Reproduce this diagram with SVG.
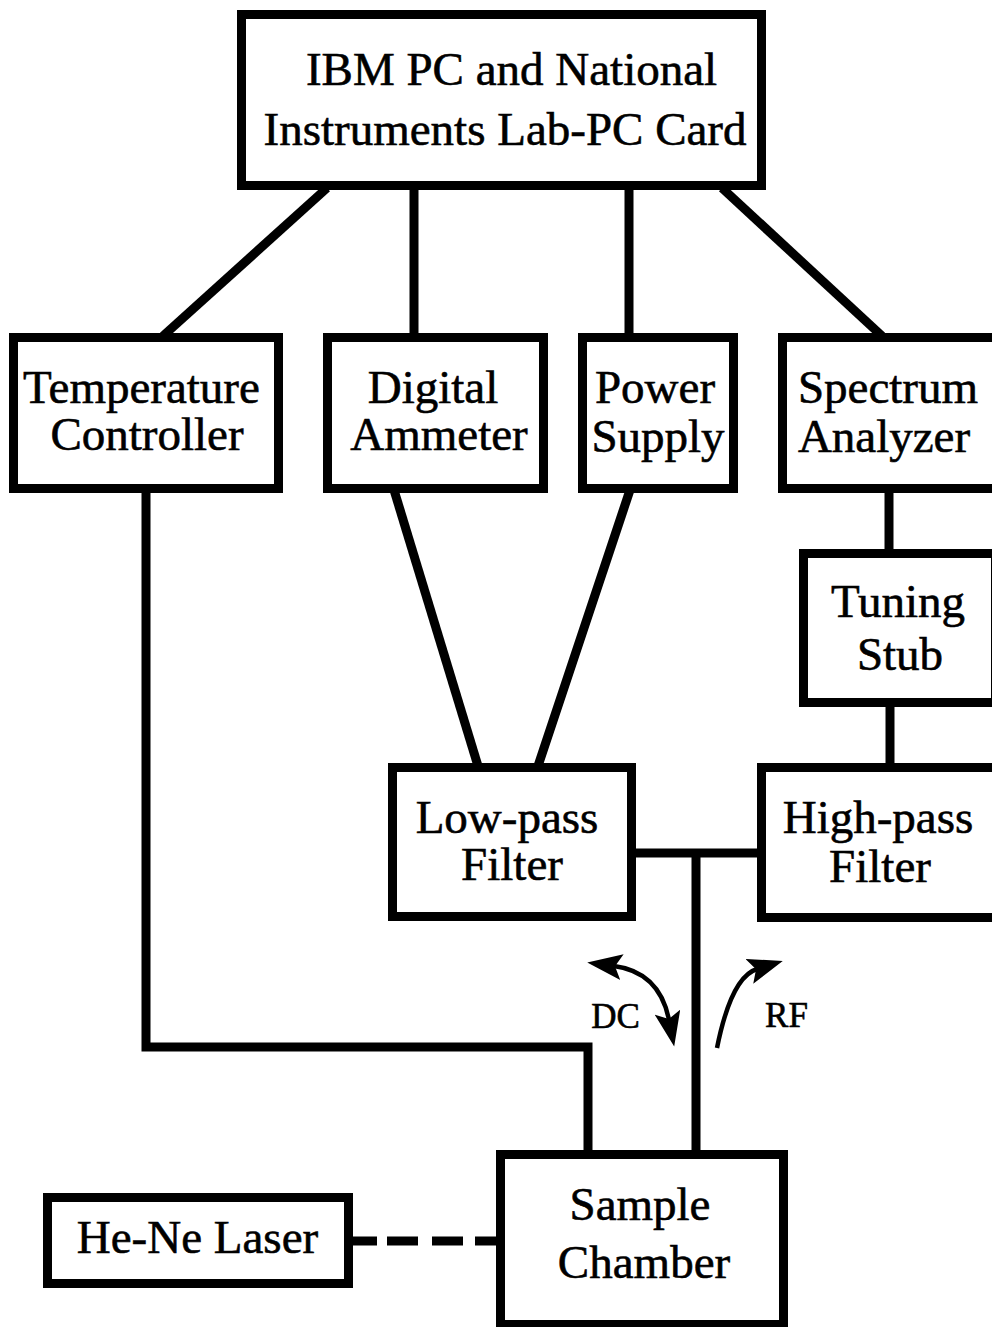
<svg xmlns="http://www.w3.org/2000/svg" width="992" height="1327" viewBox="0 0 992 1327">
<style>
.box{fill:#fff;stroke:#000;stroke-width:9}
.ln{fill:none;stroke:#000;stroke-width:9;stroke-linecap:butt}
.arc{fill:none;stroke:#000;stroke-width:4.5}
.t{font-family:"Liberation Serif","Times New Roman",serif;font-size:47px;fill:#000;stroke:#000;stroke-width:0.6;text-anchor:middle}
.s{font-family:"Liberation Serif","Times New Roman",serif;font-size:35px;fill:#000;stroke:#000;stroke-width:0.6;text-anchor:middle}
</style>
<defs>
<marker id="ah" markerUnits="userSpaceOnUse" markerWidth="36" markerHeight="26" refX="8" refY="12" orient="auto-start-reverse" viewBox="0 0 36 24" preserveAspectRatio="none">
<path d="M0,0 L35,12 L0,24 L7,12 Z" fill="#000"/>
</marker>
</defs>
<rect width="992" height="1327" fill="#fff"/>
<g id="connectors">
<line class="ln" x1="327" y1="188" x2="163" y2="336"/>
<line class="ln" x1="414" y1="188" x2="414" y2="336"/>
<line class="ln" x1="629" y1="188" x2="629" y2="336"/>
<line class="ln" x1="722" y1="188" x2="882" y2="336"/>
<path class="ln" d="M146,490 V1047 H588 V1153"/>
<line class="ln" x1="394" y1="490" x2="478" y2="766"/>
<line class="ln" x1="630" y1="490" x2="538" y2="766"/>
<line class="ln" x1="889" y1="490" x2="889" y2="552"/>
<line class="ln" x1="890" y1="704" x2="890" y2="766"/>
<line class="ln" x1="634" y1="853" x2="760" y2="853"/>
<line class="ln" x1="696" y1="853" x2="696" y2="1153"/>
<line class="ln" x1="353" y1="1241" x2="497" y2="1241" stroke-dasharray="24 10 31 14 31 12 30"/>
<path class="arc" d="M614,966 Q659.6,972 669,1020" marker-start="url(#ah)" marker-end="url(#ah)"/>
<path class="arc" d="M717,1048 Q731.2,977.1 757,969" marker-end="url(#ah)"/>
<text class="s" x="615.5" y="1028">DC</text>
<text class="s" x="786.5" y="1027">RF</text>
</g>
<g id="pc">
<rect class="box" x="241.5" y="14.5" width="520" height="171"/>
<text class="t" x="511.5" y="85">IBM PC and National</text>
<text class="t" x="505" y="145">Instruments Lab-PC Card</text>
</g>
<g id="temp">
<rect class="box" x="13.5" y="337.5" width="265" height="151"/>
<text class="t" x="141.5" y="403">Temperature</text>
<text class="t" x="147" y="450">Controller</text>
</g>
<g id="ammeter">
<rect class="box" x="327.5" y="337.5" width="216" height="151"/>
<text class="t" x="433" y="403">Digital</text>
<text class="t" x="439" y="450">Ammeter</text>
</g>
<g id="power">
<rect class="box" x="582.5" y="337.5" width="151" height="151"/>
<text class="t" x="655" y="403">Power</text>
<text class="t" x="658" y="452">Supply</text>
</g>
<g id="spectrum">
<rect class="box" x="782.5" y="337.5" width="230" height="151"/>
<text class="t" x="888" y="403">Spectrum</text>
<text class="t" x="884" y="452">Analyzer</text>
</g>
<g id="stub">
<rect class="box" x="803.5" y="553.5" width="192" height="149"/>
<text class="t" x="898" y="617">Tuning</text>
<text class="t" x="900" y="670">Stub</text>
</g>
<g id="lowpass">
<rect class="box" x="392.5" y="767.5" width="239" height="149"/>
<text class="t" x="507" y="833">Low-pass</text>
<text class="t" x="512" y="880">Filter</text>
</g>
<g id="highpass">
<rect class="box" x="761.5" y="767.5" width="250" height="150"/>
<text class="t" x="878" y="833">High-pass</text>
<text class="t" x="880" y="882">Filter</text>
</g>
<g id="chamber">
<rect class="box" x="500.5" y="1154.5" width="283" height="170"/>
<text class="t" x="640" y="1220">Sample</text>
<text class="t" x="644" y="1278">Chamber</text>
</g>
<g id="laser">
<rect class="box" x="47.5" y="1197.5" width="301" height="86"/>
<text class="t" x="197.5" y="1253">He-Ne Laser</text>
</g>
</svg>
